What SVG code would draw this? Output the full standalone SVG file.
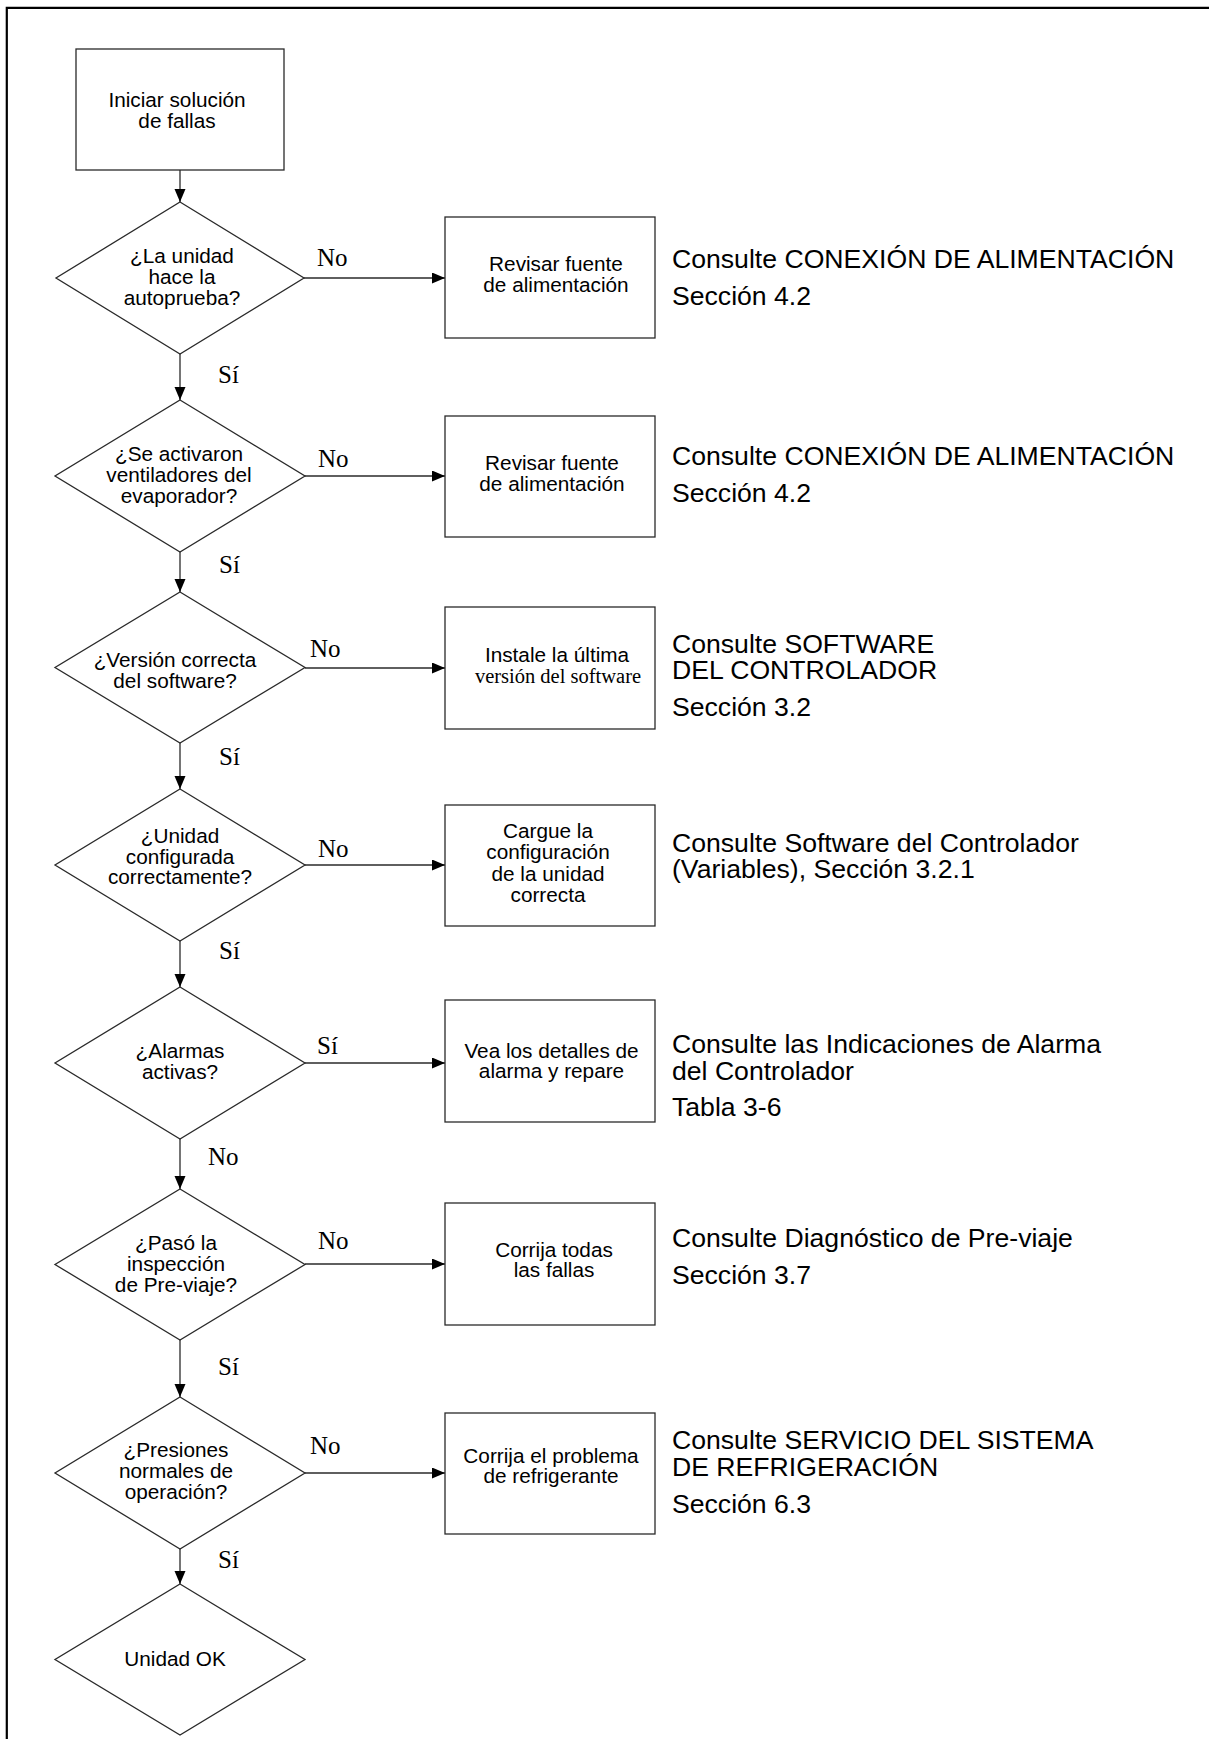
<svg xmlns="http://www.w3.org/2000/svg" width="1209" height="1739" viewBox="0 0 1209 1739">
<style>
  .shape { fill: #ffffff; stroke: #2a2a2a; stroke-width: 1.3; }
  .conn { stroke: #2a2a2a; stroke-width: 1.3; fill: none; }
  .n { font-family: "Liberation Sans", Arial, sans-serif; font-size: 19.5px; fill: #000; text-anchor: middle; }
  .r { font-family: "Liberation Sans", Arial, sans-serif; font-size: 25px; fill: #000; text-anchor: start; }
  .l { font-family: "Liberation Serif", "Times New Roman", serif; font-size: 25px; fill: #000; }
  .s { font-family: "Liberation Serif", "Times New Roman", serif; font-size: 20.5px; fill: #000; text-anchor: middle; }
</style>
<defs>
  <marker id="arr" markerUnits="userSpaceOnUse" markerWidth="14" markerHeight="12" refX="13" refY="5.5" orient="auto">
    <path d="M0,0 L13,5.5 L0,11 z" fill="#000"/>
  </marker>
</defs>
<rect width="1209" height="1739" fill="#ffffff"/>
<g id="frame" stroke="#000" stroke-width="2.2" fill="none">
  <path d="M6.8,1739 L6.8,7.8 L1209,7.8"/>
</g>

<g id="connectors">
  <line class="conn" x1="180" y1="170" x2="180" y2="202" marker-end="url(#arr)"/>
  <line class="conn" x1="180" y1="354" x2="180" y2="400" marker-end="url(#arr)"/>
  <line class="conn" x1="180" y1="552" x2="180" y2="592" marker-end="url(#arr)"/>
  <line class="conn" x1="180" y1="743" x2="180" y2="789" marker-end="url(#arr)"/>
  <line class="conn" x1="180" y1="941" x2="180" y2="987" marker-end="url(#arr)"/>
  <line class="conn" x1="180" y1="1139" x2="180" y2="1189" marker-end="url(#arr)"/>
  <line class="conn" x1="180" y1="1340" x2="180" y2="1397" marker-end="url(#arr)"/>
  <line class="conn" x1="180" y1="1549" x2="180" y2="1584" marker-end="url(#arr)"/>
  <line class="conn" x1="304" y1="278" x2="445" y2="278" marker-end="url(#arr)"/>
  <line class="conn" x1="305" y1="476" x2="445" y2="476" marker-end="url(#arr)"/>
  <line class="conn" x1="305" y1="668" x2="445" y2="668" marker-end="url(#arr)"/>
  <line class="conn" x1="305" y1="865" x2="445" y2="865" marker-end="url(#arr)"/>
  <line class="conn" x1="305" y1="1063" x2="445" y2="1063" marker-end="url(#arr)"/>
  <line class="conn" x1="305" y1="1264" x2="445" y2="1264" marker-end="url(#arr)"/>
  <line class="conn" x1="305" y1="1473" x2="445" y2="1473" marker-end="url(#arr)"/>
  <g id="connector-labels">
    <text class="l" x="317" y="266">No</text>
    <text class="l" x="218" y="383">Sí</text>
    <text class="l" x="318" y="467">No</text>
    <text class="l" x="219" y="573">Sí</text>
    <text class="l" x="310" y="657">No</text>
    <text class="l" x="219" y="765">Sí</text>
    <text class="l" x="318" y="857">No</text>
    <text class="l" x="219" y="959">Sí</text>
    <text class="l" x="317" y="1054">Sí</text>
    <text class="l" x="208" y="1165">No</text>
    <text class="l" x="318" y="1249">No</text>
    <text class="l" x="218" y="1375">Sí</text>
    <text class="l" x="310" y="1454">No</text>
    <text class="l" x="218" y="1568">Sí</text>
  </g>
</g>

<g id="start">
  <rect class="shape" x="76" y="49" width="208" height="121"/>
  <text class="n" transform="translate(177 107) scale(1.065 1)"><tspan x="0" y="0">Iniciar solución</tspan><tspan x="0" y="21">de fallas</tspan></text>
</g>

<g id="d1">
  <polygon class="shape" points="180,202 304,278 180,354 56,278"/>
  <text class="n" transform="translate(182 263) scale(1.065 1)"><tspan x="0" y="0">¿La unidad</tspan><tspan x="0" y="21">hace la</tspan><tspan x="0" y="42">autoprueba?</tspan></text>
</g>
<g id="d2">
  <polygon class="shape" points="180,400 305,476 180,552 55,476"/>
  <text class="n" transform="translate(179 461) scale(1.065 1)"><tspan x="0" y="0">¿Se activaron</tspan><tspan x="0" y="21">ventiladores del</tspan><tspan x="0" y="42">evaporador?</tspan></text>
</g>
<g id="d3">
  <polygon class="shape" points="180,592 305,667.5 180,743 55,667.5"/>
  <text class="n" transform="translate(175 667) scale(1.065 1)"><tspan x="0" y="0">¿Versión correcta</tspan><tspan x="0" y="21">del software?</tspan></text>
</g>
<g id="d4">
  <polygon class="shape" points="180,789 305,865 180,941 55,865"/>
  <text class="n" transform="translate(180 843) scale(1.065 1)"><tspan x="0" y="0">¿Unidad</tspan><tspan x="0" y="21">configurada</tspan><tspan x="0" y="41.5">correctamente?</tspan></text>
</g>
<g id="d5">
  <polygon class="shape" points="180,987 305,1063 180,1139 55,1063"/>
  <text class="n" transform="translate(180 1058) scale(1.065 1)"><tspan x="0" y="0">¿Alarmas</tspan><tspan x="0" y="21">activas?</tspan></text>
</g>
<g id="d6">
  <polygon class="shape" points="180,1189 305,1264.5 180,1340 55,1264.5"/>
  <text class="n" transform="translate(176 1249.5) scale(1.065 1)"><tspan x="0" y="0">¿Pasó la</tspan><tspan x="0" y="21.5">inspección</tspan><tspan x="0" y="43">de Pre-viaje?</tspan></text>
</g>
<g id="d7">
  <polygon class="shape" points="180,1397 305,1473 180,1549 55,1473"/>
  <text class="n" transform="translate(176 1456.5) scale(1.065 1)"><tspan x="0" y="0">¿Presiones</tspan><tspan x="0" y="21.5">normales de</tspan><tspan x="0" y="43">operación?</tspan></text>
</g>
<g id="d8">
  <polygon class="shape" points="180,1584 305,1659.5 180,1735 55,1659.5"/>
  <text class="n" transform="translate(175 1666) scale(1.065 1)">Unidad OK</text>
</g>

<g id="b1">
  <rect class="shape" x="445" y="217" width="210" height="121"/>
  <text class="n" transform="translate(556 271) scale(1.065 1)"><tspan x="0" y="0">Revisar fuente</tspan><tspan x="0" y="21">de alimentación</tspan></text>
</g>
<g id="b2">
  <rect class="shape" x="445" y="416" width="210" height="121"/>
  <text class="n" transform="translate(552 470) scale(1.065 1)"><tspan x="0" y="0">Revisar fuente</tspan><tspan x="0" y="21">de alimentación</tspan></text>
</g>
<g id="b3">
  <rect class="shape" x="445" y="607" width="210" height="122"/>
  <text class="n" transform="translate(557 662) scale(1.065 1)">Instale la última</text>
  <text class="s" x="558" y="683">versión del software</text>
</g>
<g id="b4">
  <rect class="shape" x="445" y="805" width="210" height="121"/>
  <text class="n" transform="translate(548 838) scale(1.065 1)"><tspan x="0" y="0">Cargue la</tspan><tspan x="0" y="21">configuración</tspan><tspan x="0" y="43">de la unidad</tspan><tspan x="0" y="64">correcta</tspan></text>
</g>
<g id="b5">
  <rect class="shape" x="445" y="1000" width="210" height="122"/>
  <text class="n" transform="translate(551.5 1057.5) scale(1.065 1)"><tspan x="0" y="0">Vea los detalles de</tspan><tspan x="0" y="20.5">alarma y repare</tspan></text>
</g>
<g id="b6">
  <rect class="shape" x="445" y="1203" width="210" height="122"/>
  <text class="n" transform="translate(554 1257) scale(1.065 1)"><tspan x="0" y="0">Corrija todas</tspan><tspan x="0" y="20.5">las fallas</tspan></text>
</g>
<g id="b7">
  <rect class="shape" x="445" y="1413" width="210" height="121"/>
  <text class="n" transform="translate(551 1463) scale(1.065 1)"><tspan x="0" y="0">Corrija el problema</tspan><tspan x="0" y="20.5">de refrigerante</tspan></text>
</g>

<g id="refs">
  <text class="r" transform="translate(672 268) scale(1.065 1)"><tspan x="0" y="0">Consulte CONEXIÓN DE ALIMENTACIÓN</tspan><tspan x="0" y="37">Sección 4.2</tspan></text>
  <text class="r" transform="translate(672 465) scale(1.065 1)"><tspan x="0" y="0">Consulte CONEXIÓN DE ALIMENTACIÓN</tspan><tspan x="0" y="37">Sección 4.2</tspan></text>
  <text class="r" transform="translate(672 653) scale(1.065 1)"><tspan x="0" y="0">Consulte SOFTWARE</tspan><tspan x="0" y="26">DEL CONTROLADOR</tspan><tspan x="0" y="63">Sección 3.2</tspan></text>
  <text class="r" transform="translate(672 852) scale(1.065 1)"><tspan x="0" y="0">Consulte Software del Controlador</tspan><tspan x="0" y="26">(Variables), Sección 3.2.1</tspan></text>
  <text class="r" transform="translate(672 1053) scale(1.065 1)"><tspan x="0" y="0">Consulte las Indicaciones de Alarma</tspan><tspan x="0" y="27">del Controlador</tspan><tspan x="0" y="63">Tabla 3-6</tspan></text>
  <text class="r" transform="translate(672 1247) scale(1.065 1)"><tspan x="0" y="0">Consulte Diagnóstico de Pre-viaje</tspan><tspan x="0" y="37">Sección 3.7</tspan></text>
  <text class="r" transform="translate(672 1449) scale(1.065 1)"><tspan x="0" y="0">Consulte SERVICIO DEL SISTEMA</tspan><tspan x="0" y="27">DE REFRIGERACIÓN</tspan><tspan x="0" y="64">Sección 6.3</tspan></text>
</g>
</svg>
